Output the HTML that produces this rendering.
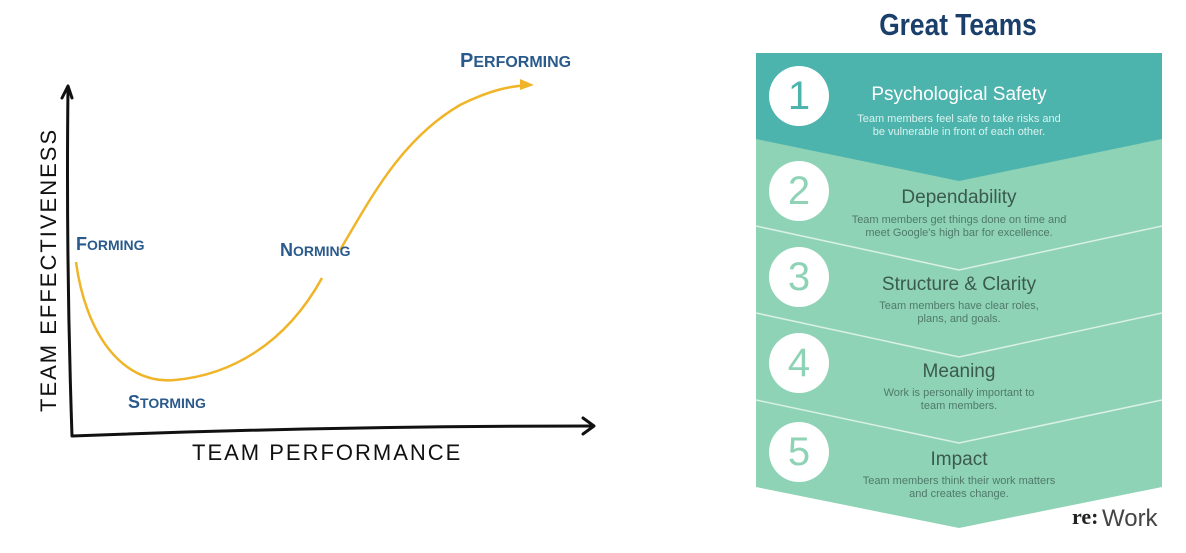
<!DOCTYPE html>
<html><head><meta charset="utf-8"><style>
body{margin:0;width:1186px;height:553px;background:#fff;overflow:hidden;position:relative;font-family:"Liberation Sans",sans-serif}
.t{position:absolute;width:340px;left:789px;text-align:center}
.h{font-size:19px}
.d{font-size:11px;line-height:13px}
.c{position:absolute;left:769px;width:60px;height:60px;border-radius:50%;background:#fff;font-size:40px;text-align:center;line-height:60px}
</style></head><body>
<svg width="1186" height="553" style="position:absolute;left:0;top:0">
<g fill="none" stroke="#111" stroke-width="3" stroke-linecap="round" stroke-linejoin="round">
<path d="M68 88 Q66 260 72 436 Q330 426 592 426"/>
<path d="M62 98 L68 86 L72 98"/>
<path d="M583 418 L594 426 L583 434"/>
</g>
<path d="M76 262 C85 330 120 385 175 380 C230 375 285 345 322 278" fill="none" stroke="#f0b429" stroke-width="2.5"/>
<path d="M340 250 C370 200 400 140 460 105 C490 90 510 86 530 85" fill="none" stroke="#f0b429" stroke-width="2.5"/>
<path d="M520 79 L534 85 L520 90 Z" fill="#f0b429"/>
<g font-family="Liberation Sans" fill="#2a5a8c" font-size="18" font-weight="bold">
<text x="76" y="250">F<tspan font-size="14">ORMING</tspan></text>
<text x="128" y="408">S<tspan font-size="14">TORMING</tspan></text>
<text x="280" y="256">N<tspan font-size="14">ORMING</tspan></text>
<text x="460" y="67" font-size="20">P<tspan font-size="16">ERFORMING</tspan></text>
</g>
<text x="192" y="460" font-size="22" fill="#111" letter-spacing="2">TEAM  PERFORMANCE</text>
<text transform="translate(56 412) rotate(-90)" font-size="22" fill="#111" letter-spacing="2">TEAM  EFFECTIVENESS</text>
<polygon points="756,53 1162,53 1162,487 959,528 756,487" fill="#8fd3b6"/>
<polygon points="756,53 1162,53 1162,139 959,181 756,139" fill="#4db4ad"/>
<g fill="none" stroke="#d8f0e6" stroke-width="1.5">
<path d="M756 226 L959 270 L1162 226"/>
<path d="M756 313 L959 357 L1162 313"/>
<path d="M756 400 L959 443 L1162 400"/>
</g>
<text transform="translate(958 35) scale(0.85 1)" text-anchor="middle" font-size="31" font-weight="bold" fill="#1b3f6b">Great Teams</text>
<text x="1072" y="524" font-size="22" font-weight="bold" font-family="Liberation Serif" fill="#222">re:</text>
<text x="1102" y="526" font-size="24" fill="#444">Work</text>
</svg>
<div class="c" style="top:66px;color:#4db4ad">1</div>
<div class="c" style="top:161px;color:#8fd3b6">2</div>
<div class="c" style="top:247px;color:#8fd3b6">3</div>
<div class="c" style="top:333px;color:#8fd3b6">4</div>
<div class="c" style="top:422px;color:#8fd3b6">5</div>
<div class="t h" style="top:84px;color:#fff">Psychological Safety</div>
<div class="t d" style="top:113px;color:#d9f2ef">Team members feel safe to take risks and<br>be vulnerable in front of each other.</div>
<div class="t h" style="top:187px;color:#3a5a4e">Dependability</div>
<div class="t d" style="top:214px;color:#4f7a6a">Team members get things done on time and<br>meet Google's high bar for excellence.</div>
<div class="t h" style="top:274px;color:#3a5a4e">Structure &amp; Clarity</div>
<div class="t d" style="top:300px;color:#4f7a6a">Team members have clear roles,<br>plans, and goals.</div>
<div class="t h" style="top:361px;color:#3a5a4e">Meaning</div>
<div class="t d" style="top:387px;color:#4f7a6a">Work is personally important to<br>team members.</div>
<div class="t h" style="top:449px;color:#3a5a4e">Impact</div>
<div class="t d" style="top:475px;color:#4f7a6a">Team members think their work matters<br>and creates change.</div>
</body></html>
